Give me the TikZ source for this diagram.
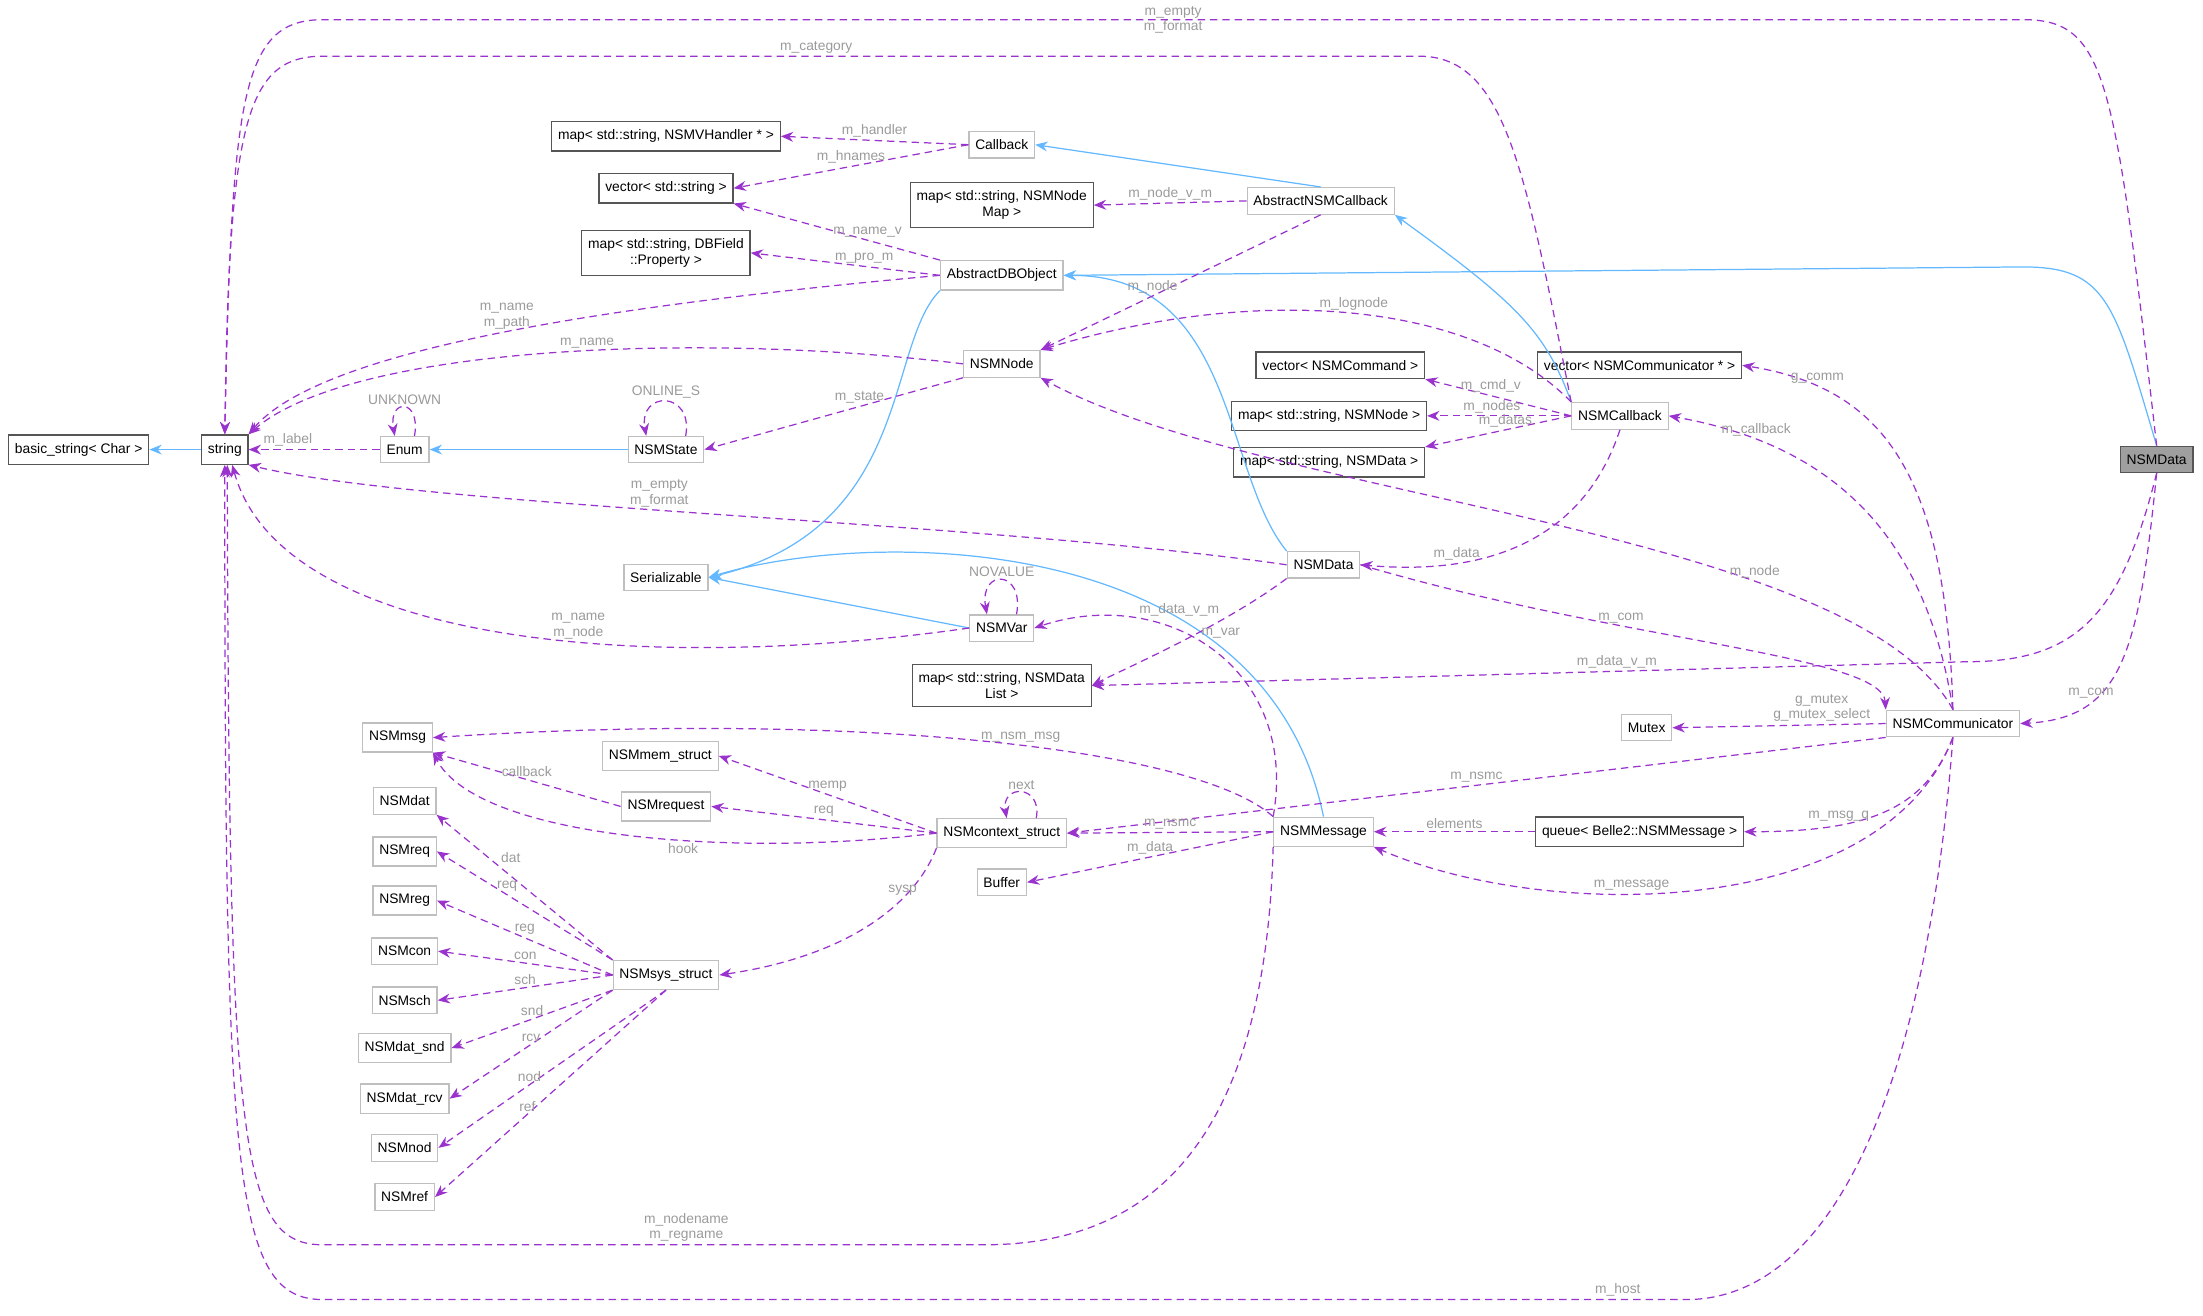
\documentclass[tikz,border=0pt]{standalone}
\usepackage{fontspec}
\setmainfont{Liberation Sans}
\usepackage{tikz}
\usetikzlibrary{arrows.meta,positioning}
\definecolor{inhblue}{HTML}{63B8FF}
\definecolor{usepurple}{HTML}{9A32CD}
\definecolor{lblgray}{HTML}{9A9A9A}
\definecolor{clsgray}{HTML}{BFBFBF}
\definecolor{extgray}{HTML}{555555}

\begin{document}
\begin{tikzpicture}[x=0.02cm, y=0.02cm, every node/.style={font=\fontsize{5.6}{6.4}\selectfont}]
  \tikzset{
    cls/.style={draw=clsgray, fill=white, line width=0.5pt, minimum height=0.36cm, inner xsep=0.09cm, align=center},
    ext/.style={draw=extgray, fill=white, line width=0.5pt, minimum height=0.36cm, inner xsep=0.09cm, align=center},
    me/.style={draw=extgray, fill=gray!75, line width=0.5pt, minimum height=0.36cm, inner xsep=0.09cm},
    inh/.style={draw=inhblue, line width=0.5pt, -{Stealth[length=5pt,width=4pt]}},
    use/.style={draw=usepurple, line width=0.5pt, dash pattern=on 3pt off 2pt, -{Stealth[length=5pt,width=4pt]}},
    lbl/.style={text=lblgray, inner sep=1pt, align=center, font=\fontsize{5.6}{6.2}\selectfont}
  }
  \useasboundingbox (0,0) rectangle (1568,936);

  % ========== CLASSES ==========
  \node[ext] (basic) at (56,616) {basic\_string< Char >};
  \node[ext] (string) at (160,616) {string};
  \node[cls] (enum) at (288,616) {Enum};
  \node[cls] (state) at (474,616) {NSMState};
  \node[ext] (mapvh) at (474,839) {map< std::string, NSMVHandler * >};
  \node[cls] (callback) at (713,833) {Callback};
  \node[ext] (vecstr) at (474,802) {vector< std::string >};
  \node[ext] (mapnodemap) at (713,790) {map< std::string, NSMNode\\Map >};
  \node[cls] (abscb) at (940,793) {AbstractNSMCallback};
  \node[ext] (mapdb) at (474,756) {map< std::string, DBField\\::Property >};
  \node[cls] (absdb) at (713,740) {AbstractDBObject};
  \node[cls] (node) at (713,677) {NSMNode};
  \node[cls] (serial) at (474,525) {Serializable};
  \node[cls] (var) at (713,489) {NSMVar};
  \node[cls] (datam) at (942,534) {NSMData};
  \node[ext] (veccmd) at (954,676) {vector< NSMCommand >};
  \node[ext] (mapnode) at (946,640) {map< std::string, NSMNode >};
  \node[ext] (mapdata) at (946,607) {map< std::string, NSMData >};
  \node[cls] (nsmcb) at (1153,640) {NSMCallback};
  \node[ext] (veccomm) at (1167,676) {vector< NSMCommunicator * >};
  \node[me] (datar) at (1535,609) {NSMData};
  \node[ext] (maplist) at (713,448) {map< std::string, NSMData\\List >};
  \node[cls] (mutex) at (1172,418) {Mutex};
  \node[cls] (comm) at (1390,421) {NSMCommunicator};
  \node[cls] (msg) at (283,411) {NSMmsg};
  \node[cls] (mem) at (470,398) {NSMmem\_struct};
  \node[cls] (request) at (474,362) {NSMrequest};
  \node[cls] (ctx) at (713,343) {NSMcontext\_struct};
  \node[cls] (message) at (942,344) {NSMMessage};
  \node[ext] (queue) at (1167,344) {queue< Belle2::NSMMessage >};
  \node[cls] (buffer) at (713,308) {Buffer};
  \node[cls] (sys) at (474,242) {NSMsys\_struct};
  \node[cls] (dat) at (288,366) {NSMdat};
  \node[cls] (req) at (288,330) {NSMreq};
  \node[cls] (reg) at (288,295) {NSMreg};
  \node[cls] (con) at (288,259) {NSMcon};
  \node[cls] (sch) at (288,224) {NSMsch};
  \node[cls] (datsnd) at (288,190) {NSMdat\_snd};
  \node[cls] (datrcv) at (288,154) {NSMdat\_rcv};
  \node[cls] (nod) at (288,119) {NSMnod};
  \node[cls] (ref) at (288,84) {NSMref};

  % ========== INHERITANCE ==========
  \draw[inh] (string) -- (basic);
  \draw[inh] (state) -- (enum);
  \draw[inh] (abscb.north) -- (callback.east);
  \draw[inh] (nsmcb.north west) .. controls (1100,700) and (1080,720) .. (abscb.south east);
  \draw[inh] (datar.north) .. controls (1505,720) and (1500,746) .. (1440,746) -- (absdb.east);
  \draw[inh] (absdb.south west) .. controls (630,690) and (650,560) .. (serial.east);
  \draw[inh] (datam.north west) .. controls (870,600) and (880,740) .. (absdb.east);
  \draw[inh] (var.west) -- (serial.east);
  \draw[inh] (message.north) .. controls (900,560) and (620,560) .. (serial.east);

  % ========== USAGE ==========
  \draw[use] (datar.north) .. controls (1505,880) and (1500,922) .. (1440,922)
    -- node[lbl, pos=0.5] {m\_empty\\m\_format} (230,922)
    .. controls (172,922) and (165,870) .. (string.north);
  \draw[use] (nsmcb.north west) .. controls (1085,820) and (1070,896) .. (1010,896)
    -- node[lbl, above, pos=0.55] {m\_category} (230,896)
    .. controls (175,896) and (163,850) .. (string.north);
  \draw[use] (callback.west) -- node[lbl, above] {m\_handler} (mapvh.east);
  \draw[use] (callback.west) -- node[lbl, above] {m\_hnames} (vecstr.east);
  \draw[use] (abscb.west) -- node[lbl, above] {m\_node\_v\_m} (mapnodemap.east);
  \draw[use] (abscb.south) -- node[lbl, above, pos=0.6] {m\_node} (node.north east);
  \draw[use] (absdb.north west) -- node[lbl, above, pos=0.35] {m\_name\_v} (vecstr.south east);
  \draw[use] (absdb.west) -- node[lbl, above, pos=0.4] {m\_pro\_m} (mapdb.east);
  \draw[use] (absdb.west) .. controls (450,720) and (230,690) .. node[lbl, above, pos=0.5] {m\_name\\m\_path} (string.north east);
  \draw[use] (node.west) .. controls (500,700) and (250,690) .. node[lbl, above, pos=0.45] {m\_name} (string.north east);
  \draw[use] (node.south west) -- node[lbl, above, pos=0.4] {m\_state} (state.east);
  \draw[use] (enum.west) -- node[lbl, above, pos=0.7] {m\_label} (string.east);
  \draw[use] ([xshift=4pt]enum.north) to[out=80, in=100, looseness=5]
    node[lbl, above] {UNKNOWN} ([xshift=-4pt]enum.north);
  \draw[use] ([xshift=8pt]state.north) to[out=80, in=100, looseness=3]
    node[lbl, above] {ONLINE\_S} ([xshift=-8pt]state.north);
  \draw[use] ([xshift=6pt]var.north) to[out=80, in=100, looseness=4]
    node[lbl, above] {NOVALUE} ([xshift=-6pt]var.north);
  \draw[use] ([xshift=14pt]ctx.north) to[out=80, in=100, looseness=3]
    node[lbl, above] {next} ([xshift=2pt]ctx.north);
  \draw[use] (nsmcb.north west) .. controls (1050,720) and (900,735) .. node[lbl, above, pos=0.5] {m\_lognode} (node.north east);
  \draw[use] (nsmcb.west) -- node[lbl, above, pos=0.55] {m\_cmd\_v} (veccmd.south east);
  \draw[use] (nsmcb.west) -- node[lbl, above, pos=0.55] {m\_nodes} (mapnode.east);
  \draw[use] (nsmcb.west) -- node[lbl, above, pos=0.45] {m\_datas} (mapdata.north east);
  \draw[use] (nsmcb.south) .. controls (1130,560) and (1070,525) .. node[lbl, above, pos=0.75] {m\_data} (datam.east);
  \draw[use] (datam.east) .. controls (1150,480) and (1340,470) .. node[lbl, above, pos=0.35] {m\_com} (comm.north west);
  \draw[use] (comm.north) .. controls (1320,560) and (900,580) .. node[lbl, above, pos=0.3] {m\_node} (node.south east);
  \draw[use] (datam.west) .. controls (700,565) and (300,575) .. node[lbl, above, pos=0.55] {m\_empty\\m\_format} (string.south east);
  \draw[use] (var.west) .. controls (450,455) and (200,480) .. node[lbl, above, pos=0.4] {m\_name\\m\_node} ([xshift=3pt]string.south);
  \draw[use] (datam.south west) .. controls (870,490) and (800,460) .. node[lbl, above left, pos=0.3] {m\_data\_v\_m} (maplist.east);
  \draw[use] (datar.south) .. controls (1510,500) and (1480,465) .. (1400,465)
    -- node[lbl, above, pos=0.4] {m\_data\_v\_m} (maplist.east);
  \draw[use] (datar.south) .. controls (1522,470) and (1510,425) .. node[lbl, above, pos=0.7] {m\_com} (comm.east);
  \draw[use] (comm.north) .. controls (1385,600) and (1340,660) .. node[lbl, above, pos=0.8] {g\_comm} (veccomm.east);
  \draw[use] (comm.north) .. controls (1370,560) and (1300,620) .. node[lbl, above, pos=0.8] {m\_callback} (nsmcb.east);
  \draw[use] (comm.west) -- node[lbl, above, pos=0.3] {g\_mutex\\g\_mutex\_select} (mutex.east);
  \draw[use] (comm.south west) -- node[lbl, above, pos=0.5] {m\_nsmc} (ctx.east);
  \draw[use] (comm.south) .. controls (1370,360) and (1330,344) .. node[lbl, above, pos=0.7] {m\_msg\_q} (queue.east);
  \draw[use] (comm.south) .. controls (1340,280) and (1100,280) .. node[lbl, above, pos=0.6] {m\_message} (message.south east);
  \draw[use] (comm.south) .. controls (1370,150) and (1300,11) .. (1200,11)
    -- node[lbl, above, pos=0.05] {m\_host} (230,11)
    .. controls (165,11) and (160,100) .. (string.south);
  \draw[use] (message.north west) .. controls (925,460) and (830,520) .. node[lbl, above right, pos=0.55] {m\_var} (var.east);
  \draw[use] (message.north west) .. controls (850,405) and (600,430) .. node[lbl, above, pos=0.45] {m\_nsm\_msg} (msg.east);
  \draw[use] (message.west) -- node[lbl, above, pos=0.5] {m\_nsmc} (ctx.east);
  \draw[use] (message.west) -- node[lbl, above, pos=0.5] {m\_data} (buffer.east);
  \draw[use] (queue.west) -- node[lbl, above, pos=0.5] {elements} (message.east);
  \draw[use] (message.south west) .. controls (900,100) and (800,50) .. (700,50)
    -- node[lbl, above, pos=0.45] {m\_nodename\\m\_regname} (230,50)
    .. controls (170,50) and (163,120) .. ([xshift=1pt]string.south);
  \draw[use] (request.west) -- node[lbl, above, pos=0.5] {callback} (msg.south east);
  \draw[use] (ctx.west) -- node[lbl, above, pos=0.5] {memp} (mem.east);
  \draw[use] (ctx.west) -- node[lbl, above, pos=0.5] {req} (request.east);
  \draw[use] (ctx.west) .. controls (520,325) and (340,340) .. node[lbl, below, pos=0.4] {hook} (msg.south east);
  \draw[use] (ctx.south west) .. controls (650,290) and (600,255) .. node[lbl, above, pos=0.3] {sysp} (sys.east);
  \draw[use] (sys.north west) -- node[lbl, above right, pos=0.65] {dat} (dat.south east);
  \draw[use] (sys.north west) -- node[lbl, above, pos=0.6] {req} (req.east);
  \draw[use] (sys.west) -- node[lbl, above, pos=0.5] {reg} (reg.east);
  \draw[use] (sys.west) -- node[lbl, above, pos=0.5] {con} (con.east);
  \draw[use] (sys.west) -- node[lbl, above, pos=0.5] {sch} (sch.east);
  \draw[use] (sys.south west) -- node[lbl, above, pos=0.5] {snd} (datsnd.east);
  \draw[use] (sys.south west) -- node[lbl, above, pos=0.5] {rcv} (datrcv.east);
  \draw[use] (sys.south) -- node[lbl, above, pos=0.6] {nod} (nod.east);
  \draw[use] (sys.south) -- node[lbl, above, pos=0.6] {ref} (ref.east);
\end{tikzpicture}
\end{document}
